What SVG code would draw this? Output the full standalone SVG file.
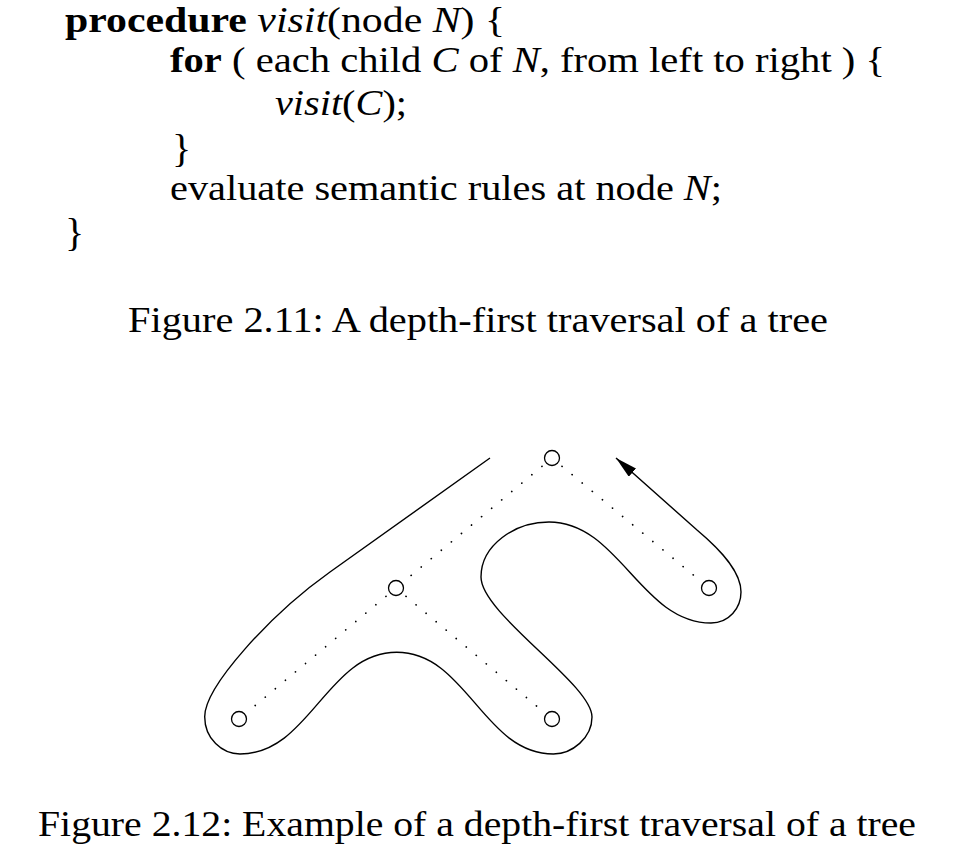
<svg xmlns="http://www.w3.org/2000/svg" width="956" height="846" viewBox="0 0 956 846">
  <style>
    text { font-family: "Liberation Serif", "Times New Roman", serif; font-size: 36px; fill: #000; }
    .b { font-weight: bold; }
    .i { font-style: italic; }
    .brace { font-size: 40px; }
    .node { fill: #fff; stroke: #000; stroke-width: 1.3; }
    .edge { fill: none; stroke: #000; stroke-width: 1.7; stroke-linecap: round; stroke-dasharray: 0.1 13; }
    .walk { fill: none; stroke: #000; stroke-width: 1.4; }
  </style>
  <defs>
    <marker id="arrow" markerUnits="userSpaceOnUse" viewBox="0 0 22 11" markerWidth="22" markerHeight="11" refX="22" refY="5.5" orient="auto">
      <path d="M0,0 L22,5.5 L0,11 z" fill="#000"/>
    </marker>
  </defs>
  <rect width="956" height="846" fill="#fff"/>

  <g id="code">
    <text x="65" y="32" textLength="440" lengthAdjust="spacingAndGlyphs"><tspan class="b">procedure</tspan> <tspan class="i">visit</tspan>(node <tspan class="i">N</tspan>) {</text>
    <text x="170" y="72" textLength="715" lengthAdjust="spacingAndGlyphs"><tspan class="b">for</tspan> ( each child <tspan class="i">C</tspan> of <tspan class="i">N</tspan>, from left to right ) {</text>
    <text x="275" y="115" textLength="132" lengthAdjust="spacingAndGlyphs"><tspan class="i">visit</tspan>(<tspan class="i">C</tspan>);</text>
    <text class="brace" x="172" y="162">}</text>
    <text x="170" y="200" textLength="552" lengthAdjust="spacingAndGlyphs">evaluate semantic rules at node <tspan class="i">N</tspan>;</text>
    <text class="brace" x="65" y="246">}</text>
  </g>

  <text id="caption1" x="128" y="332" textLength="700" lengthAdjust="spacingAndGlyphs">Figure 2.11: A depth-first traversal of a tree</text>

  <g id="connectors">
    <line class="edge" x1="542" y1="466.3" x2="406" y2="579.7"/>
    <line class="edge" x1="386" y1="596.3" x2="249" y2="710.7"/>
    <line class="edge" x1="406" y1="596.4" x2="542" y2="710.6"/>
    <line class="edge" x1="562" y1="466.3" x2="699" y2="579.7"/>
    <path class="walk" marker-end="url(#arrow)" d="M490,458 L330,572 C270,614.7 204.7,686.7 204.7,716.7 C204.7,738.7 222,754 240,754 C310,754 326.7,652.3 396.7,652.3 C466.7,652.3 483.4,754 553.4,754 C572,754 592,738 592,717 C592,684 481,614 481,577 C481,545 515,522 549,522 C619,522 641,623 711,623 C729,623 741,608 741,592 C741,572 722,551 697,530 L616,458"/>
  </g>

  <g id="node-root"><circle class="node" cx="552" cy="458" r="7.5"/></g>
  <g id="node-mid"><circle class="node" cx="396" cy="588" r="7.5"/></g>
  <g id="node-right"><circle class="node" cx="709" cy="588" r="7.5"/></g>
  <g id="node-leaf-left"><circle class="node" cx="239" cy="719" r="7.5"/></g>
  <g id="node-leaf-mid"><circle class="node" cx="552" cy="719" r="7.5"/></g>

  <text id="caption2" x="38" y="836" textLength="878" lengthAdjust="spacingAndGlyphs">Figure 2.12: Example of a depth-first traversal of a tree</text>
</svg>
